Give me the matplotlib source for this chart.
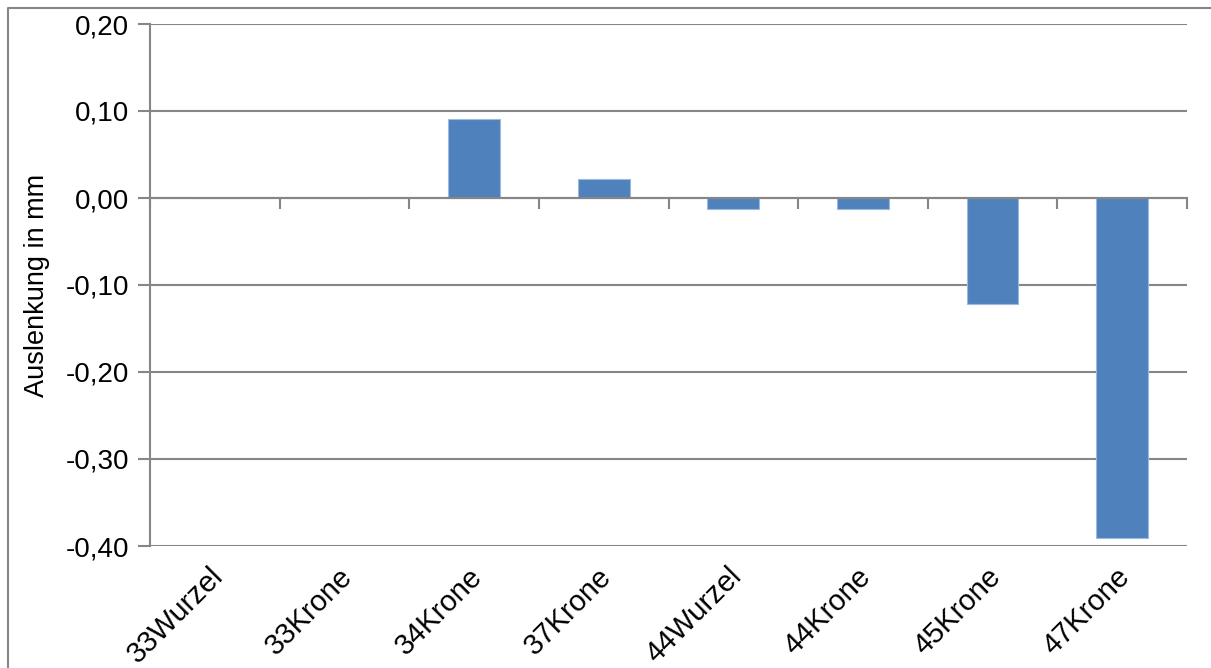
#!/usr/bin/env python3
# Auslenkung bar chart (Excel style) -> out.png

import matplotlib
matplotlib.use("Agg")
import matplotlib.pyplot as plt
from matplotlib.lines import Line2D
from matplotlib.ticker import FuncFormatter, MultipleLocator

categories = ["33Wurzel", "33Krone", "34Krone", "37Krone",
              "44Wurzel", "44Krone", "45Krone", "47Krone"]
values = [0.0, 0.0, 0.0913, 0.0223, -0.0130, -0.0122, -0.1220, -0.3910]
y_label = "Auslenkung in mm"

plt.rcParams["font.family"] = ["Liberation Sans", "DejaVu Sans"]
grey = "#868686"
blue = "#4F81BD"
fs = 20

W, H = 1211, 668
fig = plt.figure(figsize=(W / 100, H / 100), dpi=100)
ax = fig.add_axes([150 / W, 1 - 546 / H, 1037 / W, 522 / H])

x = list(range(len(categories)))
ax.bar(x, values, width=0.4, color=blue, edgecolor="#9DB9DD", linewidth=0.8, zorder=3)

ax.set_xlim(-0.5, len(categories) - 0.5)
ax.set_ylim(-0.40, 0.20)
ax.yaxis.set_major_locator(MultipleLocator(0.10))
ax.yaxis.set_major_formatter(FuncFormatter(lambda v, p: f"{v:.2f}".replace(".", ",").replace("-0,00", "0,00")))
ax.grid(axis="y", color=grey, linewidth=1.5, zorder=0)
ax.tick_params(axis="y", direction="out", length=9, width=1.5, color=grey,
               labelsize=fs, pad=6)

# x axis crossing at zero with ticks at category boundaries
ax.spines["bottom"].set_position(("data", 0))
ax.spines["bottom"].set_color(grey)
ax.spines["bottom"].set_linewidth(1.5)
ax.spines["bottom"].set_zorder(4)
ax.set_xticks([i - 0.5 for i in range(len(categories) + 1)])
ax.set_xticklabels([])
ax.tick_params(axis="x", direction="out", length=8, width=1.5, color=grey)
ax.spines["left"].set_color(grey)
ax.spines["left"].set_linewidth(1.5)
ax.spines["top"].set_visible(False)
ax.spines["right"].set_visible(False)

for i, name in enumerate(categories):
    ax.text(i + 0.03, -0.05, name, transform=ax.get_xaxis_transform(),
            rotation=45, rotation_mode="anchor", ha="right", va="center",
            fontsize=21)

ax.set_ylabel(y_label, fontsize=19.5)
ax.yaxis.set_label_coords(-100 / 1037, 0.5)

# chart area border (left and top visible)
fig.add_artist(Line2D([8 / W, 8 / W, 1], [0, 1 - 8 / H, 1 - 8 / H],
                      transform=fig.transFigure, color=grey, linewidth=1.5))

fig.savefig("out.png", dpi=100)
print("saved out.png")
